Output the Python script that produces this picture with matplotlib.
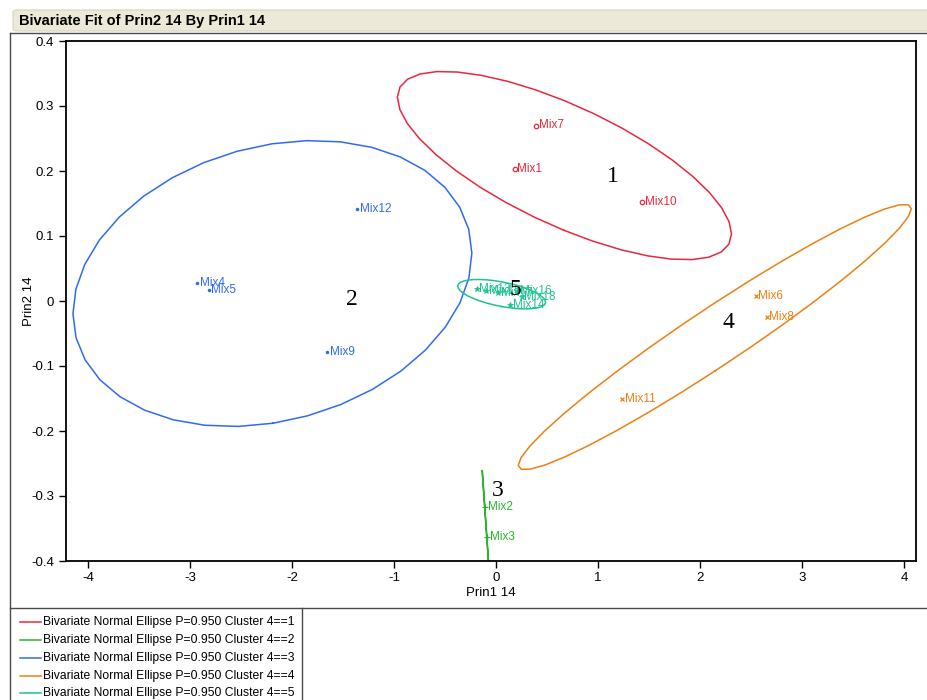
import numpy as np
import matplotlib

matplotlib.use("Agg")

import matplotlib.pyplot as plt
from matplotlib.lines import Line2D
from matplotlib.patches import FancyBboxPatch

# Prin1 / Prin2 scores for each cluster
c1_names = ["Mix1", "Mix7", "Mix10"]
c1_prin1 = [0.183, 0.395, 1.433]
c1_prin2 = [0.203, 0.270, 0.152]

c2_names = ["Mix2", "Mix3"]
c2_prin1 = [-0.111, -0.091]
c2_prin2 = [-0.317, -0.3626]

c3_names = ["Mix4", "Mix5", "Mix9", "Mix12"]
c3_prin1 = [-2.931, -2.818, -1.658, -1.361]
c3_prin2 = [0.027, 0.017, -0.078, 0.1415]

c4_names = ["Mix6", "Mix8", "Mix11"]
c4_prin1 = [2.543, 2.651, 1.237]
c4_prin2 = [0.0077, -0.024, -0.150]

c5_names = ["Mix13", "Mix15", "Mix17", "Mix16", "Mix18", "Mix14"]
c5_prin1 = [-0.19, -0.10, 0.02, 0.21, 0.25, 0.14]
c5_prin2 = [0.019, 0.016, 0.012, 0.016, 0.006, -0.006]

# cluster number tags drawn on the plot
tag_text = ["1", "2", "3", "4", "5"]
tag_prin1 = [1.149, -1.413, 0.02, 2.282, 0.186]
tag_prin2 = [0.192, 0.003, -0.292, -0.033, 0.018]

legend_labels = [
    "Bivariate Normal Ellipse P=0.950 Cluster 4==1",
    "Bivariate Normal Ellipse P=0.950 Cluster 4==2",
    "Bivariate Normal Ellipse P=0.950 Cluster 4==3",
    "Bivariate Normal Ellipse P=0.950 Cluster 4==4",
    "Bivariate Normal Ellipse P=0.950 Cluster 4==5",
]

RED = "#E8283C"
GREEN = "#2DB32D"
BLUE = "#2F6BF2"
ORANGE = "#EE7F12"
TEAL = "#1DC391"

clusters = [
    (c1_names, c1_prin1, c1_prin2, RED, dict(marker="o", ms=3.2, mfc="none", mew=0.9)),
    (c2_names, c2_prin1, c2_prin2, GREEN, dict(marker="+", ms=5, mew=0.9)),
    (c3_names, c3_prin1, c3_prin2, BLUE, dict(marker=".", ms=3)),
    (c4_names, c4_prin1, c4_prin2, ORANGE, dict(marker="x", ms=3.5, mew=0.9)),
    (c5_names, c5_prin1, c5_prin2, TEAL, dict(marker="*", ms=4, mew=0.5)),
]

plt.rcParams["font.family"] = ["Liberation Sans", "DejaVu Sans"]


def normal_ellipse(x, y, p=0.95, n=37):
    """Density ellipse of a bivariate normal fitted to the points."""
    pts = np.column_stack([x, y])
    mean = pts.mean(axis=0)
    cov = np.cov(pts, rowvar=False)
    vals, vecs = np.linalg.eigh(cov)
    vals = np.clip(vals, 0, None)
    radius = np.sqrt(-2 * np.log(1 - p))
    t = np.linspace(0, 2 * np.pi, n)
    circle = np.vstack([np.cos(t), np.sin(t)])
    ring = vecs @ (np.sqrt(vals)[:, None] * circle) * radius
    return mean[0] + ring[0], mean[1] + ring[1]


W, H = 928, 700
fig = plt.figure(figsize=(W / 100, H / 100), dpi=100)
fig.patch.set_facecolor("white")


def fx(px):
    return px / W


def fy(py):
    return 1 - py / H


# report title bar
bar = FancyBboxPatch(
    (fx(13), fy(31)), fx(930) - fx(13), fy(10) - fy(31),
    boxstyle="round,pad=0,rounding_size=0.004",
    transform=fig.transFigure, facecolor="#ECE9D8", edgecolor="#D6D2BE",
    linewidth=0.8,
)
fig.patches.append(bar)
fig.text(fx(19), fy(20.5), "Bivariate Fit of Prin2 14 By Prin1 14",
         fontsize=10.5, fontweight="bold", va="center", ha="left")

# outline of the report panel and the legend box
frame = dict(transform=fig.transFigure, color="#4a4a4a", linewidth=1.0)
fig.add_artist(Line2D([fx(10), fx(928)], [fy(32.5), fy(32.5)], **frame))
fig.add_artist(Line2D([fx(10), fx(10)], [fy(32.5), fy(700)], **frame))
fig.add_artist(Line2D([fx(10), fx(928)], [fy(608), fy(608)], **frame))
fig.add_artist(Line2D([fx(302), fx(302)], [fy(608), fy(700)], **frame))

ax = fig.add_axes([fx(66), fy(561), fx(916) - fx(66), fy(41) - fy(561)])
ax.set_xlim(-4.215, 4.116)
ax.set_ylim(-0.4, 0.4)

for names, xs, ys, color, mstyle in clusters:
    ex, ey = normal_ellipse(xs, ys)
    ax.plot(ex, ey, color=color, linewidth=1.1)
    ax.plot(xs, ys, linestyle="none", color=color, **mstyle)
    for name, x, y in zip(names, xs, ys):
        ax.annotate(name, (x, y), xytext=(2, 0), textcoords="offset points",
                    ha="left", va="center", fontsize=8.5, color=color)

for t, x, y in zip(tag_text, tag_prin1, tag_prin2):
    ax.text(x, y, t, ha="center", va="center", fontsize=17,
            family=["Liberation Serif", "DejaVu Serif"], color="black")

ax.set_xticks([-4, -3, -2, -1, 0, 1, 2, 3, 4])
ax.set_xticklabels(["-4", "-3", "-2", "-1", "0", "1", "2", "3", "4"])
ax.set_yticks(np.round(np.arange(-0.4, 0.41, 0.1), 1))
ax.set_yticklabels(["-0.4", "-0.3", "-0.2", "-0.1", "0", "0.1", "0.2", "0.3", "0.4"])
ax.tick_params(direction="out", length=5, width=1, labelsize=9.5, colors="black")
ax.tick_params(axis="x", pad=3)
for side in ax.spines.values():
    side.set_linewidth(1.3)
ax.set_xlabel("Prin1 14", fontsize=9.5, labelpad=2)
ax.set_ylabel("Prin2 14", fontsize=9.5)
ax.yaxis.set_label_coords(-0.037, 0.5)

# legend entries for the ellipses
legend_colors = [RED, GREEN, BLUE, ORANGE, TEAL]
legend_rows = [622, 639.5, 657.5, 675.5, 693]
for label, color, row in zip(legend_labels, legend_colors, legend_rows):
    fig.add_artist(Line2D([fx(20), fx(41)], [fy(row), fy(row)],
                          transform=fig.transFigure, color=color, linewidth=1.1))
    fig.text(fx(43), fy(row), label, fontsize=8.75, va="center", ha="left")

fig.savefig("out.png", dpi=100)
